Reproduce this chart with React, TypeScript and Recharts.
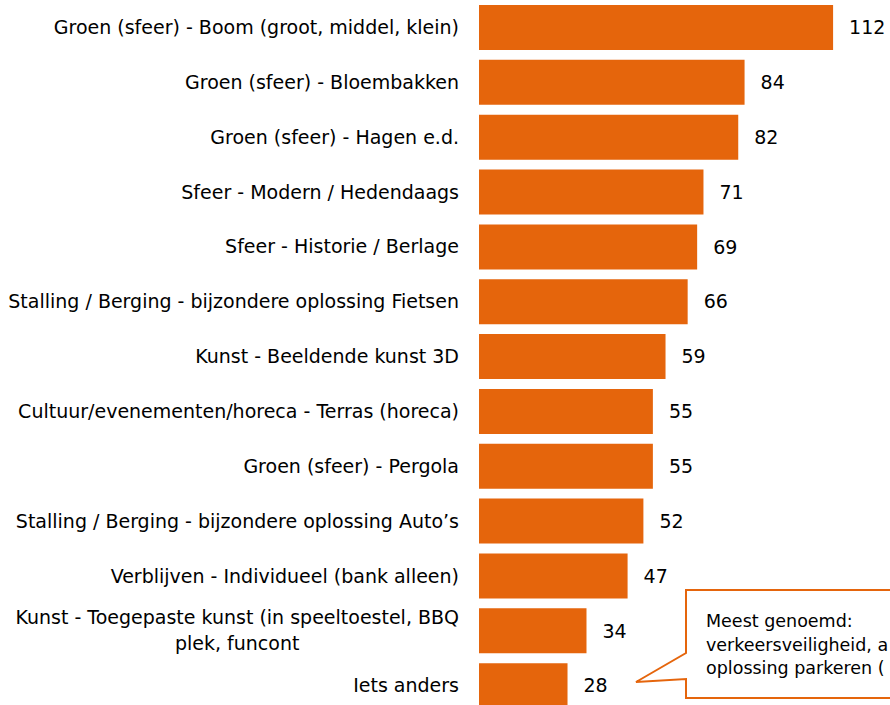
import { BarChart, Bar, XAxis, YAxis, LabelList, Customized } from "recharts"

// categories (top to bottom) and number of mentions
const categories = [
  "Groen (sfeer) - Boom (groot, middel, klein)",
  "Groen (sfeer) - Bloembakken",
  "Groen (sfeer) - Hagen e.d.",
  "Sfeer - Modern / Hedendaags",
  "Sfeer - Historie / Berlage",
  "Stalling / Berging - bijzondere oplossing Fietsen",
  "Kunst - Beeldende kunst 3D",
  "Cultuur/evenementen/horeca - Terras (horeca)",
  "Groen (sfeer) - Pergola",
  "Stalling / Berging - bijzondere oplossing Auto’s",
  "Verblijven - Individueel (bank alleen)",
  "Kunst - Toegepaste kunst (in speeltoestel, BBQ\nplek, funcont",
  "Iets anders",
]
const counts = [112, 84, 82, 71, 69, 66, 59, 55, 55, 52, 47, 34, 28]

const calloutLines = ["Meest genoemd:", "verkeersveiligheid, a", "oplossing parkeren ("]

const data = categories.map((name, i) => ({ name, value: counts[i] }))

const ORANGE = "#E5650C"
const FONT = "'DejaVu Sans', sans-serif"
const FONT_SIZE = 19

let ctx: CanvasRenderingContext2D | null = null
function textWidth(s: string) {
  if (!ctx) ctx = document.createElement("canvas").getContext("2d")
  if (!ctx) return s.length * FONT_SIZE * 0.55
  ctx.font = `${FONT_SIZE}px 'DejaVu Sans'`
  return ctx.measureText(s).width
}

function CategoryTick(props: any) {
  const { x, y, payload } = props
  const lines: string[] = String(payload.value).split("\n")
  if (lines.length === 1) {
    return (
      <text x={x} y={y} dy="0.35em" textAnchor="end" fontSize={FONT_SIZE} fontFamily={FONT} fill="#000">
        {lines[0]}
      </text>
    )
  }
  // wrapped label: later lines centred under the first one
  const w = textWidth(lines[0])
  const cx = x - w / 2
  const lh = 26
  const top = y - ((lines.length - 1) * lh) / 2
  return (
    <g>
      {lines.map((l, i) => (
        <text
          key={i}
          x={i === 0 ? x : cx}
          y={top + i * lh}
          dy="0.35em"
          textAnchor={i === 0 ? "end" : "middle"}
          fontSize={FONT_SIZE}
          fontFamily={FONT}
          fill="#000"
        >
          {l}
        </text>
      ))}
    </g>
  )
}

function Callout() {
  const left = 686
  const top = 590
  const bottom = 698
  const right = 900
  const d = `M${left},${top} L${right},${top} L${right},${bottom} L${left},${bottom} L${left},679 L636,682 L${left},653 Z`
  return (
    <g>
      <path d={d} fill="#fff" stroke={ORANGE} strokeWidth={2} />
      {calloutLines.map((l, i) => (
        <text key={i} x={706} y={627 + i * 23.5} fontSize={17.5} fontFamily={FONT} fill="#000">
          {l}
        </text>
      ))}
    </g>
  )
}

export default function App() {
  return (
    <div style={{ position: "absolute", left: 0, top: 0, width: 890, height: 705, overflow: "hidden", background: "#fff" }}>
      <BarChart
        width={890}
        height={713}
        layout="vertical"
        data={data}
        margin={{ top: 0, right: 0, left: 0, bottom: 0 }}
      >
        <XAxis type="number" domain={[0, 130]} hide />
        <YAxis
          type="category"
          dataKey="name"
          width={479}
          tickLine={false}
          axisLine={false}
          tickSize={0}
          tickMargin={20}
          interval={0}
          tick={<CategoryTick />}
        />
        <Bar dataKey="value" fill={ORANGE} barSize={45} isAnimationActive={false}>
          <LabelList dataKey="value" position="right" offset={16} fontSize={FONT_SIZE} fontFamily={FONT} fill="#000" />
        </Bar>
        <Customized component={Callout} />
      </BarChart>
    </div>
  )
}
